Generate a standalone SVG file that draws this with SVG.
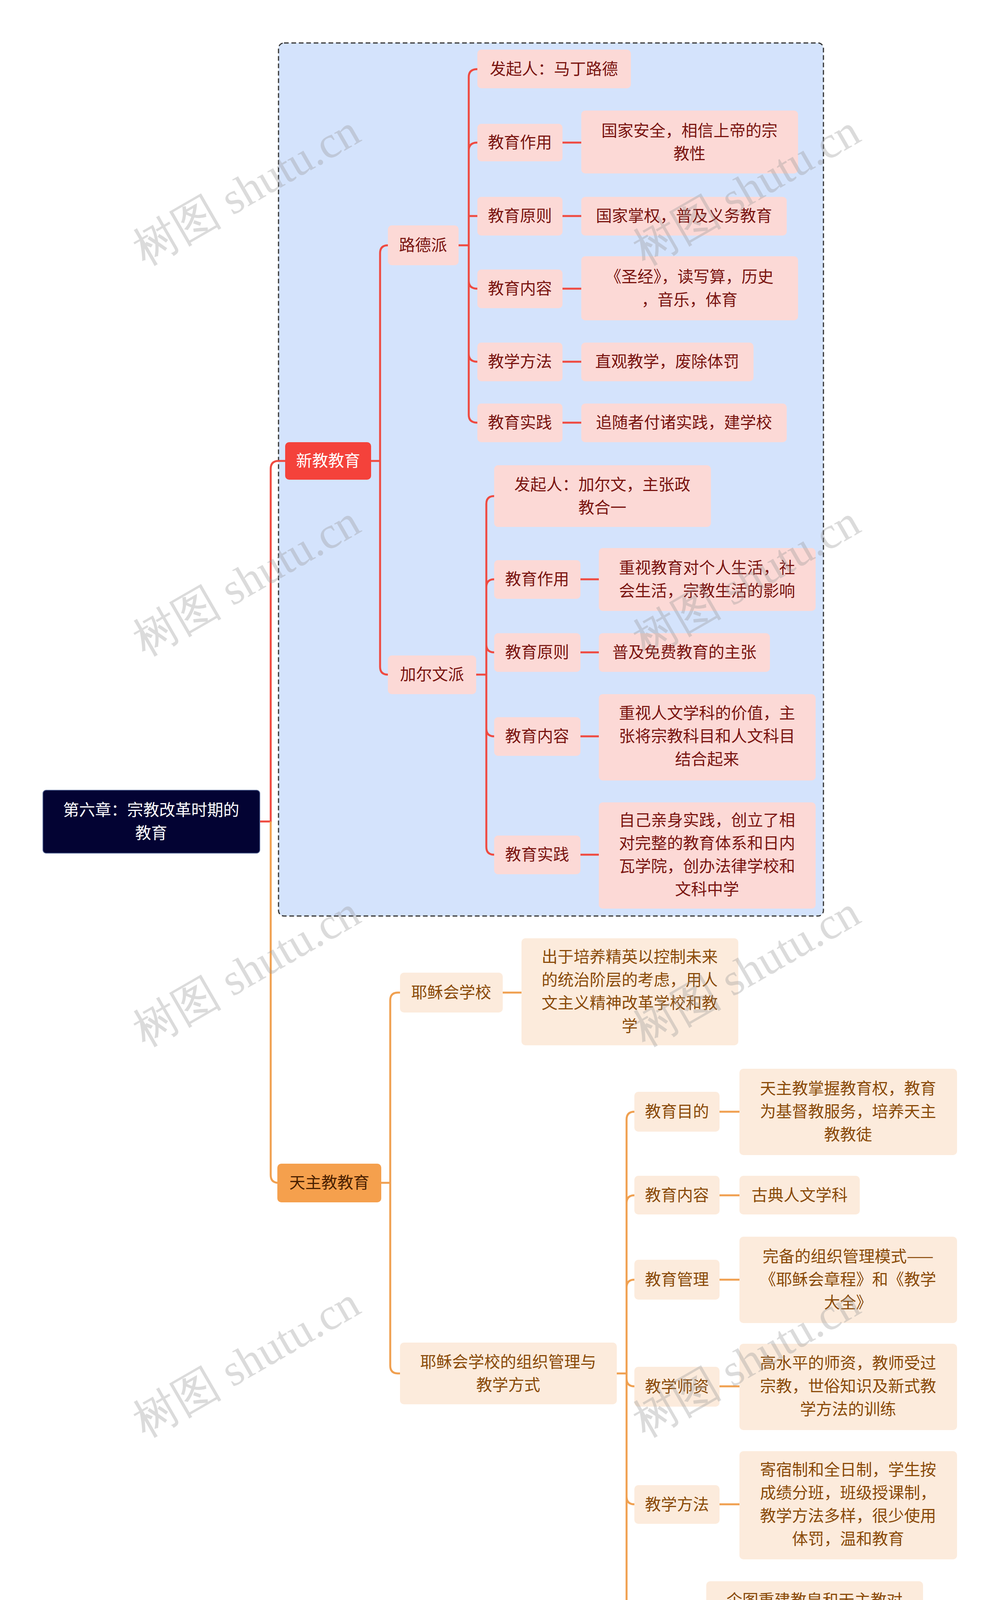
<svg xmlns="http://www.w3.org/2000/svg" width="2560" height="4436" viewBox="0 0 2560 4436">
<style>
text{font-family:"Noto Sans CJK SC","Noto Sans",sans-serif;font-size:41px;text-anchor:middle}
.r rect{fill:#fcd9d6}.r text{fill:#7a1410}
.o rect{fill:#fcebdc}.o text{fill:#8a4a08}
.cr{fill:none;stroke:#ef4a40;stroke-width:5}
.co{fill:none;stroke:#f0a050;stroke-width:5}
.wm{font-family:"Liberation Serif",serif;font-size:115px;fill:#999;opacity:.35}
</style>
<rect x="713" y="110" width="1395" height="2235" rx="14" fill="#d4e3fc" stroke="#333" stroke-width="3" stroke-dasharray="12,7"/>
<g id="connectors">
<path class="cr" d="M665,2103 H693 V1200 Q693,1180 713,1180 H730"/>
<path class="co" d="M693,2103 V3008 Q693,3028 713,3028 H710"/>
<path class="cr" d="M950,1180 H973 M973,1180 V648 Q973,628 993,628 M973,1180 V1707 Q973,1727 993,1727"/>
<path class="cr" d="M1174,628 H1200 M1200,628 V197 Q1200,177 1222,177 M1200,628 V385 Q1200,365 1222,365 M1200,628 V553 Q1200,553 1222,553 M1200,628 V719 Q1200,739 1222,739 M1200,628 V906 Q1200,926 1222,926 M1200,628 V1062 Q1200,1082 1222,1082"/>
<path class="cr" d="M1440,365 H1488 M1440,553 H1488 M1440,739 H1488 M1440,926 H1488 M1440,1082 H1488"/>
<path class="cr" d="M1219,1727 H1245 M1245,1727 V1290 Q1245,1270 1265,1270 M1245,1727 V1503 Q1245,1483 1265,1483 M1245,1727 V1650 Q1245,1670 1265,1670 M1245,1727 V1865 Q1245,1885 1265,1885 M1245,1727 V2168 Q1245,2188 1265,2188"/>
<path class="cr" d="M1486,1483 H1533 M1486,1670 H1533 M1486,1885 H1533 M1486,2188 H1533"/>
<path class="co" d="M976,3028 H999 M999,3028 V2561 Q999,2541 1019,2541 H1024 M999,3028 V3496 Q999,3516 1019,3516 H1024"/>
<path class="co" d="M1287,2541 H1335"/>
<path class="co" d="M1579,3516 H1604 M1604,3516 V2866 Q1604,2846 1624,2846 M1604,3516 V3080 Q1604,3060 1624,3060 M1604,3516 V3296 Q1604,3276 1624,3276 M1604,3516 V3529 Q1604,3549 1624,3549 M1604,3516 V3831 Q1604,3851 1624,3851 M1604,3516 V4165 Q1604,4185 1624,4185"/>
<path class="co" d="M1842,2846 H1893 M1842,3060 H1893 M1842,3276 H1893 M1842,3549 H1893 M1842,3851 H1893 M1757,4185 H1808"/>
</g>
<g id="root"><rect x="110" y="2023" width="555" height="161" rx="8" fill="#030333" stroke="#4a5a8a" stroke-width="2"/><text x="387" y="2088" fill="#fff">第六章：宗教改革时期的</text><text x="387" y="2147" fill="#fff">教育</text></g>
<g id="n1"><rect x="730" y="1132" width="220" height="96" rx="10" fill="#f4423b"/><text x="840" y="1194" fill="#fff">新教教育</text></g>
<g id="n2"><rect x="710" y="2979" width="266" height="99" rx="10" fill="#f5a04d"/><text x="843" y="3042" fill="#4a2000">天主教教育</text></g>
<g id="n3" class="r"><rect x="993" y="577" width="181" height="102" rx="10"/><text x="1083" y="642">路德派</text></g>
<g id="n4" class="r"><rect x="993" y="1678" width="226" height="99" rx="10"/><text x="1106" y="1741">加尔文派</text></g>
<g id="n5" class="r"><rect x="1222" y="127" width="393" height="99" rx="10"/><text x="1418" y="191">发起人：马丁路德</text></g>
<g id="n6" class="r"><rect x="1222" y="317" width="218" height="96" rx="10"/><text x="1331" y="379">教育作用</text></g>
<g id="n7" class="r"><rect x="1488" y="283" width="555" height="161" rx="10"/><text x="1765" y="349">国家安全，相信上帝的宗</text><text x="1765" y="408">教性</text></g>
<g id="n8" class="r"><rect x="1222" y="504" width="218" height="99" rx="10"/><text x="1331" y="567">教育原则</text></g>
<g id="n9" class="r"><rect x="1488" y="504" width="526" height="99" rx="10"/><text x="1751" y="567">国家掌权，普及义务教育</text></g>
<g id="n10" class="r"><rect x="1222" y="690" width="218" height="99" rx="10"/><text x="1331" y="753">教育内容</text></g>
<g id="n11" class="r"><rect x="1488" y="656" width="555" height="164" rx="10"/><text x="1765" y="723">《圣经》，读写算，历史</text><text x="1765" y="782">，音乐，体育</text></g>
<g id="n12" class="r"><rect x="1222" y="877" width="218" height="99" rx="10"/><text x="1331" y="940">教学方法</text></g>
<g id="n13" class="r"><rect x="1488" y="877" width="441" height="99" rx="10"/><text x="1708" y="940">直观教学，废除体罚</text></g>
<g id="n14" class="r"><rect x="1222" y="1033" width="218" height="99" rx="10"/><text x="1331" y="1096">教育实践</text></g>
<g id="n15" class="r"><rect x="1488" y="1033" width="526" height="99" rx="10"/><text x="1751" y="1096">追随者付诸实践，建学校</text></g>
<g id="n16" class="r"><rect x="1265" y="1191" width="555" height="158" rx="10"/><text x="1542" y="1255">发起人：加尔文，主张政</text><text x="1542" y="1314">教合一</text></g>
<g id="n17" class="r"><rect x="1265" y="1434" width="221" height="99" rx="10"/><text x="1375" y="1497">教育作用</text></g>
<g id="n18" class="r"><rect x="1533" y="1403" width="555" height="161" rx="10"/><text x="1810" y="1468">重视教育对个人生活，社</text><text x="1810" y="1527">会生活，宗教生活的影响</text></g>
<g id="n19" class="r"><rect x="1265" y="1621" width="221" height="99" rx="10"/><text x="1375" y="1684">教育原则</text></g>
<g id="n20" class="r"><rect x="1533" y="1621" width="438" height="99" rx="10"/><text x="1752" y="1684">普及免费教育的主张</text></g>
<g id="n21" class="r"><rect x="1265" y="1836" width="221" height="99" rx="10"/><text x="1375" y="1899">教育内容</text></g>
<g id="n22" class="r"><rect x="1533" y="1777" width="555" height="221" rx="10"/><text x="1810" y="1840">重视人文学科的价值，主</text><text x="1810" y="1899">张将宗教科目和人文科目</text><text x="1810" y="1958">结合起来</text></g>
<g id="n23" class="r"><rect x="1265" y="2139" width="221" height="99" rx="10"/><text x="1375" y="2202">教育实践</text></g>
<g id="n24" class="r"><rect x="1533" y="2054" width="555" height="272" rx="10"/><text x="1810" y="2114">自己亲身实践，创立了相</text><text x="1810" y="2173">对完整的教育体系和日内</text><text x="1810" y="2232">瓦学院，创办法律学校和</text><text x="1810" y="2291">文科中学</text></g>
<g id="n25" class="o"><rect x="1024" y="2490" width="263" height="102" rx="10"/><text x="1155" y="2555">耶稣会学校</text></g>
<g id="n26" class="o"><rect x="1335" y="2402" width="555" height="274" rx="10"/><text x="1612" y="2464">出于培养精英以控制未来</text><text x="1612" y="2523">的统治阶层的考虑，用人</text><text x="1612" y="2582">文主义精神改革学校和教</text><text x="1612" y="2641">学</text></g>
<g id="n27" class="o"><rect x="1024" y="3437" width="555" height="158" rx="10"/><text x="1301" y="3501">耶稣会学校的组织管理与</text><text x="1301" y="3560">教学方式</text></g>
<g id="n28" class="o"><rect x="1624" y="2795" width="218" height="102" rx="10"/><text x="1733" y="2860">教育目的</text></g>
<g id="n29" class="o"><rect x="1893" y="2736" width="557" height="221" rx="10"/><text x="2171" y="2801">天主教掌握教育权，教育</text><text x="2171" y="2860">为基督教服务，培养天主</text><text x="2171" y="2919">教教徒</text></g>
<g id="n30" class="o"><rect x="1624" y="3010" width="218" height="99" rx="10"/><text x="1733" y="3074">教育内容</text></g>
<g id="n31" class="o"><rect x="1893" y="3010" width="308" height="99" rx="10"/><text x="2047" y="3074">古典人文学科</text></g>
<g id="n32" class="o"><rect x="1624" y="3225" width="218" height="102" rx="10"/><text x="1733" y="3290">教育管理</text></g>
<g id="n33" class="o"><rect x="1893" y="3166" width="557" height="221" rx="10"/><text x="2171" y="3231">完备的组织管理模式——</text><text x="2171" y="3290">《耶稣会章程》和《教学</text><text x="2171" y="3349">大全》</text></g>
<g id="n34" class="o"><rect x="1624" y="3499" width="218" height="102" rx="10"/><text x="1733" y="3564">教学师资</text></g>
<g id="n35" class="o"><rect x="1893" y="3440" width="557" height="221" rx="10"/><text x="2171" y="3504">高水平的师资，教师受过</text><text x="2171" y="3563">宗教，世俗知识及新式教</text><text x="2171" y="3622">学方法的训练</text></g>
<g id="n36" class="o"><rect x="1624" y="3802" width="218" height="99" rx="10"/><text x="1733" y="3866">教学方法</text></g>
<g id="n37" class="o"><rect x="1893" y="3715" width="557" height="277" rx="10"/><text x="2171" y="3777">寄宿制和全日制，学生按</text><text x="2171" y="3836">成绩分班，班级授课制，</text><text x="2171" y="3895">教学方法多样，很少使用</text><text x="2171" y="3954">体罚，温和教育</text></g>
<g id="n38" class="o"><rect x="1624" y="4136" width="133" height="99" rx="10"/><text x="1690" y="4200">评价</text></g>
<g id="n39" class="o"><rect x="1808" y="4048" width="555" height="274" rx="10"/><text x="2085" y="4111">企图重建教皇和天主教对</text><text x="2085" y="4170">欧洲的统治是逆历史潮流</text><text x="2085" y="4229">的，但管理学校的措施对</text><text x="2085" y="4288">后世具有借鉴意义</text></g>
<g id="watermarks">
<text class="wm" transform="translate(650,520) rotate(-30)">树图 shutu.cn</text>
<text class="wm" transform="translate(1930,520) rotate(-30)">树图 shutu.cn</text>
<text class="wm" transform="translate(650,1520) rotate(-30)">树图 shutu.cn</text>
<text class="wm" transform="translate(1930,1520) rotate(-30)">树图 shutu.cn</text>
<text class="wm" transform="translate(650,2520) rotate(-30)">树图 shutu.cn</text>
<text class="wm" transform="translate(1930,2520) rotate(-30)">树图 shutu.cn</text>
<text class="wm" transform="translate(650,3520) rotate(-30)">树图 shutu.cn</text>
<text class="wm" transform="translate(1930,3520) rotate(-30)">树图 shutu.cn</text>
<text class="wm" transform="translate(650,4460) rotate(-30)">树图 shutu.cn</text>
<text class="wm" transform="translate(1930,4460) rotate(-30)">树图 shutu.cn</text>
</g>
</svg>
